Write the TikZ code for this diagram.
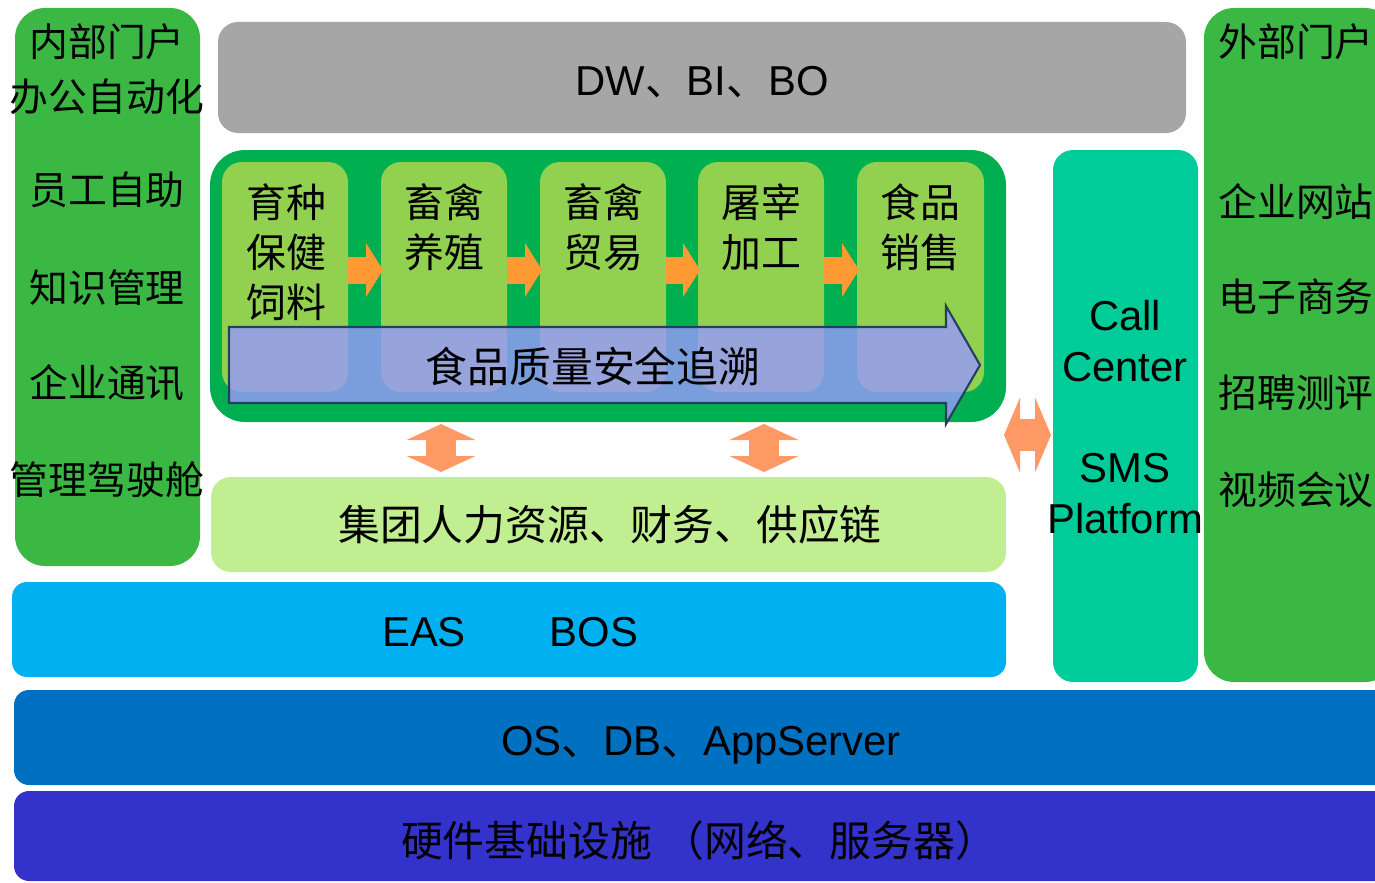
\documentclass[tikz,border=0pt]{standalone}
\usepackage{fontspec}
\setmainfont{Liberation Sans}
\newfontfamily\cjk{Noto Sans CJK SC}
\usetikzlibrary{arrows.meta,fit}
\definecolor{pgreen}{HTML}{3BB843}
\definecolor{cgray}{HTML}{A6A6A6}
\definecolor{cteal}{HTML}{00CC99}
\definecolor{contgreen}{HTML}{00B050}
\definecolor{chaingreen}{HTML}{92D050}
\definecolor{lightbar}{HTML}{C0EE90}
\definecolor{ceas}{HTML}{00B0F0}
\definecolor{cos}{HTML}{0070C0}
\definecolor{chw}{HTML}{3333CC}
\definecolor{corange}{HTML}{FF9933}
\definecolor{csalmon}{HTML}{FF9966}
\definecolor{cblue}{HTML}{9999FF}
\definecolor{cnavy}{HTML}{243F60}
\newcommand{\szL}{\fontsize{22.1pt}{28pt}\selectfont}
\newcommand{\szC}{\fontsize{22.7pt}{28.6pt}\selectfont}
\newcommand{\szB}{\fontsize{23.8pt}{28.9pt}\selectfont}
\begin{document}
\begin{tikzpicture}[x=0.02cm,y=-0.02cm,
  box/.style={inner sep=0pt,outer sep=0pt,draw=none},
  cjkL/.style={font=\cjk\szL,inner sep=0pt},
  cjkC/.style={font=\cjk\szC,inner sep=0pt,align=center},
  cjkB/.style={font=\cjk\szB,inner sep=0pt},
  latB/.style={font=\szB,inner sep=0pt},
  chainarr/.style={draw=corange,line width=0.54cm,-{Triangle[length=0.34cm,width=1.08cm,line width=0pt]},shorten >=-0.04cm},
  vdbl/.style={draw=csalmon,line width=0.6cm,{Triangle[length=0.32cm,width=1.38cm,line width=0pt]}-{Triangle[length=0.32cm,width=1.38cm,line width=0pt]}},
  hdbl/.style={draw=csalmon,line width=0.64cm,{Triangle[length=0.32cm,width=1.5cm,line width=0pt]}-{Triangle[length=0.32cm,width=1.5cm,line width=0pt]}},
  bigarr/.style={fill=cblue,fill opacity=0.8,draw=cnavy,line width=1.2pt,line join=miter}
]
\useasboundingbox (0,0) rectangle (1375,882);
\clip (0,0) rectangle (1375,882);

% panels and bars
\node[box,fill=pgreen,rounded corners=0.6cm,fit={(15,8) (200,566)}] (lp) {};
\node[box,fill=pgreen,rounded corners=0.6cm,fit={(1204,8) (1395,682)}] (rp) {};
\node[box,fill=cgray,rounded corners=0.4cm,fit={(218,22) (1186,133)}] (dw) {};
\node[box,fill=contgreen,rounded corners=0.7cm,fit={(210,150) (1006,422)}] (cont) {};
\node[box,fill=cteal,rounded corners=0.4cm,fit={(1053,150) (1198,682)}] (cc) {};
\node[box,fill=lightbar,rounded corners=0.4cm,fit={(211,477) (1006,572)}] (lb) {};
\node[box,fill=ceas,rounded corners=0.3cm,fit={(12,582) (1006,677)}] (eas) {};
\node[box,fill=cos,rounded corners=0.3cm,fit={(14,690) (1400,785)}] (os) {};
\node[box,fill=chw,rounded corners=0.3cm,fit={(14,791) (1400,881)}] (hw) {};

% chain boxes
\node[box,fill=chaingreen,rounded corners=0.4cm,fit={(222,162) (348,392)}] (c1) {};
\node[box,fill=chaingreen,rounded corners=0.4cm,fit={(381,162) (507,392)}] (c2) {};
\node[box,fill=chaingreen,rounded corners=0.4cm,fit={(540,162) (666,392)}] (c3) {};
\node[box,fill=chaingreen,rounded corners=0.4cm,fit={(698,162) (824,392)}] (c4) {};
\node[box,fill=chaingreen,rounded corners=0.4cm,fit={(857,162) (984,392)}] (c5) {};

\node[cjkC,anchor=north] (c1t) at (286,183) {育种\\保健\\饲料};
\node[cjkC,anchor=north] (c2t) at (444,183) {畜禽\\养殖};
\node[cjkC,anchor=north] (c3t) at (603,183) {畜禽\\贸易};
\node[cjkC,anchor=north] (c4t) at (761,183) {屠宰\\加工};
\node[cjkC,anchor=north] (c5t) at (920,183) {食品\\销售};

\draw[chainarr] ([yshift=0.14cm]c1.east) -- ([yshift=0.14cm]c2.west);
\draw[chainarr] ([yshift=0.14cm]c2.east) -- ([yshift=0.14cm]c3.west);
\draw[chainarr] ([yshift=0.14cm]c3.east) -- ([yshift=0.14cm]c4.west);
\draw[chainarr] ([yshift=0.14cm]c4.east) -- ([yshift=0.14cm]c5.west);

% trace arrow
\draw[bigarr] (229,327) -- (946,327) -- (946,306) -- (980,365) -- (946,424) -- (946,403) -- (229,403) -- cycle;
\node[cjkB] (trace) at (593,366) {食品质量安全追溯};

% double arrows
\coordinate (va) at (441,0);
\coordinate (vb) at (764,0);
\coordinate (ha) at (0,435);
\draw[vdbl,shorten <=0.04cm,shorten >=0.1cm] (cont.south -| va) -- (lb.north -| va);
\draw[vdbl,shorten <=0.04cm,shorten >=0.1cm] (cont.south -| vb) -- (lb.north -| vb);
\draw[hdbl,shorten <=-0.04cm,shorten >=0.04cm] (cont.east |- ha) -- (cc.west |- ha);

% left panel texts
\node[cjkL] (lpt) at (107,42) {内部门户};
\node[cjkL] (lp1) at (107,97) {办公自动化};
\node[cjkL] (lp2) at (107,190) {员工自助};
\node[cjkL] (lp3) at (107,288) {知识管理};
\node[cjkL] (lp4) at (107,383) {企业通讯};
\node[cjkL] (lp5) at (107,480) {管理驾驶舱};

% right panel texts
\node[cjkL,anchor=west] (rpt) at (1218,42) {外部门户};
\node[cjkL,anchor=west] (rp1) at (1218,202) {企业网站};
\node[cjkL,anchor=west] (rp2) at (1218,297) {电子商务};
\node[cjkL,anchor=west] (rp3) at (1218,393) {招聘测评};
\node[cjkL,anchor=west] (rp4) at (1218,490) {视频会议};

% bar texts
\node[latB,anchor=base] (dwt) at (702,95) {DW{\cjk 、}BI{\cjk 、}BO};
\node[latB,align=center] (cct) at (1125,417) {Call\\Center\\~\\SMS\\Platform};
\node[cjkB] (lbt) at (610,525) {集团人力资源、财务、供应链};
\node[latB,anchor=base] (east) at (424,646) {EAS};
\node[latB,anchor=base] (bost) at (594,646) {BOS};
\node[latB,anchor=base] (ost) at (701,755) {OS{\cjk 、}DB{\cjk 、}AppServer};
\node[cjkB] (hwt) at (699,841) {硬件基础设施\kern0.25em（网络、服务器）};
\end{tikzpicture}
\end{document}
